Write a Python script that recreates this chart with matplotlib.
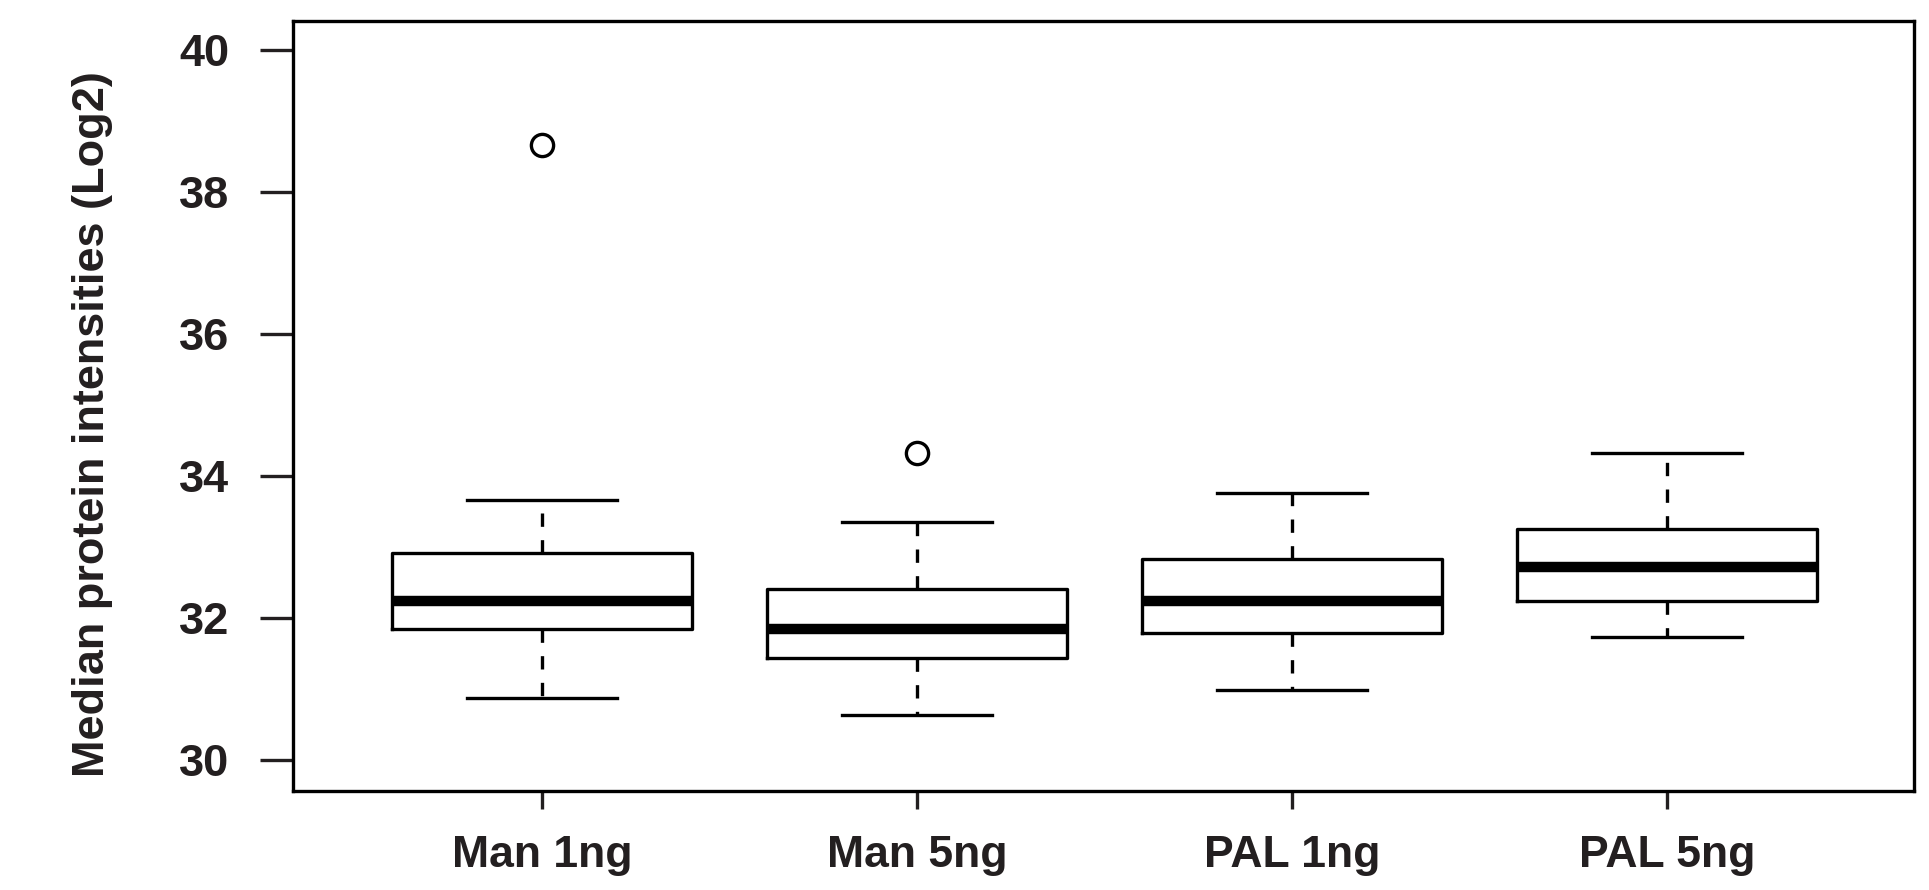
import matplotlib
matplotlib.use("Agg")
import matplotlib.pyplot as plt

plt.rcParams['font.family'] = ['Liberation Sans', 'DejaVu Sans']
plt.rcParams['font.weight'] = 'bold'

# box statistics
groups = ['Man 1ng', 'Man 5ng', 'PAL 1ng', 'PAL 5ng']
whislo = [30.88, 30.64, 30.99, 31.73]
q1 = [31.84, 31.44, 31.79, 32.24]
med = [32.24, 31.84, 32.24, 32.72]
q3 = [32.91, 32.41, 32.83, 33.26]
whishi = [33.67, 33.36, 33.76, 34.32]
outliers = [[38.67], [34.32], [], []]

stats = []
for i, g in enumerate(groups):
    stats.append(dict(label=g, whislo=whislo[i], q1=q1[i], med=med[i],
                      q3=q3[i], whishi=whishi[i], fliers=outliers[i]))

fig = plt.figure(figsize=(19.29, 8.90), dpi=100)
ax = fig.add_axes([293/1929, 1-791/890, (1914-293)/1929, (791-21)/890])

lw = 2.4
ax.bxp(stats, positions=[1, 2, 3, 4], widths=0.8, capwidths=0.4,
       boxprops=dict(color='black', linewidth=lw),
       medianprops=dict(color='black', linewidth=7.5, solid_capstyle='butt'),
       whiskerprops=dict(color='black', linewidth=lw, linestyle=(0, (4, 4))),
       capprops=dict(color='black', linewidth=lw),
       flierprops=dict(marker='o', markersize=16, markerfacecolor='none',
                       markeredgecolor='black', markeredgewidth=lw))

ax.set_xlim(0.336, 4.659)
ax.set_ylim(29.563, 40.414)
ax.set_yticks([30, 32, 34, 36, 38, 40])
ax.set_xticks([1, 2, 3, 4])
ax.set_xticklabels(groups)

for s in ax.spines.values():
    s.set_linewidth(lw)

ax.tick_params(axis='y', length=24, width=lw, pad=22, labelsize=32.5, colors='#231f20')
ax.tick_params(axis='x', length=13, width=lw, pad=19, labelsize=32, colors='#231f20')
ax.set_ylabel('Median protein intensities (Log2)', fontsize=32.5, fontweight='bold',
              color='#231f20')
ax.yaxis.set_label_coords(-0.111, 0.476)

fig.savefig('out.png', dpi=100)
